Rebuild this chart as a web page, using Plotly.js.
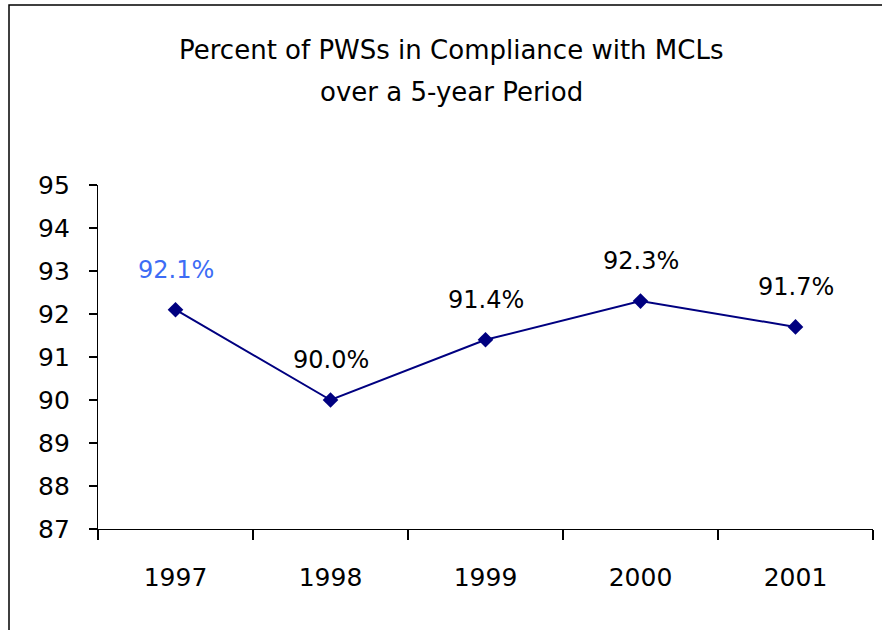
<!DOCTYPE html>
<html>
<head>
<meta charset="utf-8">
<script src="https://cdn.plot.ly/plotly-3.0.1.min.js"></script>
<style>html,body{margin:0;padding:0;background:#fff;}#chart{width:882px;height:630px;}</style>
</head>
<body>
<div id="chart"></div>
<script>
const years = ['1997', '1998', '1999', '2000', '2001'];
const values = [92.1, 90.0, 91.4, 92.3, 91.7];
const labels = ['92.1%', '90.0%', '91.4%', '92.3%', '91.7%'];
const labelColors = ['#3d6cf5', '#000000', '#000000', '#000000', '#000000'];
const yTicks = [87, 88, 89, 90, 91, 92, 93, 94, 95];
const titleLines = ['Percent of PWSs in Compliance with MCLs', 'over a 5-year Period'];

const FONT = 'DejaVu Sans, sans-serif';

const trace = {
  x: years,
  y: values,
  type: 'scatter',
  mode: 'lines+markers',
  line: {color: '#000080', width: 2},
  marker: {symbol: 'diamond', size: 12, color: '#000080'},
  hoverinfo: 'x+y'
};

// category axis: annotation x given as category index
const annotations = years.map((yr, i) => ({
  x: i, y: values[i], xref: 'x', yref: 'y',
  text: labels[i], showarrow: false, yshift: 40,
  font: {family: FONT, size: 24, color: labelColors[i]}
}));
titleLines.forEach((t, i) => annotations.push({
  x: (451 - 98) / 775, xref: 'paper', yref: 'paper', y: (529 - (50 + i * 42)) / 344,
  yanchor: 'middle', xanchor: 'center', text: t, showarrow: false,
  font: {family: FONT, size: 26, color: '#000'}
}));

const layout = {
  width: 882, height: 630,
  margin: {l: 98, r: 9, t: 185, b: 101},
  paper_bgcolor: '#ffffff', plot_bgcolor: '#ffffff',
  showlegend: false,
  font: {family: FONT, size: 24, color: '#000'},
  xaxis: {
    type: 'category', tickvals: years, ticktext: years,
    range: [-0.5, 4.5],
    showline: true, linecolor: '#000', linewidth: 1.2,
    ticks: 'outside', tickson: 'boundaries', ticklen: 10, tickcolor: '#000', tickwidth: 1.2,
    showgrid: false, zeroline: false, ticklabelstandoff: 26,
    tickfont: {family: FONT, size: 25, color: '#000'}
  },
  yaxis: {
    range: [87, 95], tickvals: yTicks, ticktext: yTicks.map(String),
    showline: true, linecolor: '#000', linewidth: 1.2,
    ticks: 'outside', ticklen: 8, tickcolor: '#000', tickwidth: 1.2,
    showgrid: false, zeroline: false, ticklabelstandoff: 14,
    tickfont: {family: FONT, size: 25, color: '#000'}
  },
  annotations: annotations,
  shapes: [{
    type: 'rect', xref: 'paper', yref: 'paper',
    x0: (9 - 98) / 775, x1: 1.2, y0: -0.6, y1: (529 - 5) / 344,
    line: {color: '#000', width: 1.5}, fillcolor: 'rgba(0,0,0,0)', layer: 'below'
  }]
};

Plotly.newPlot('chart', [trace], layout, {displayModeBar: false, staticPlot: true});
</script>
</body>
</html>
